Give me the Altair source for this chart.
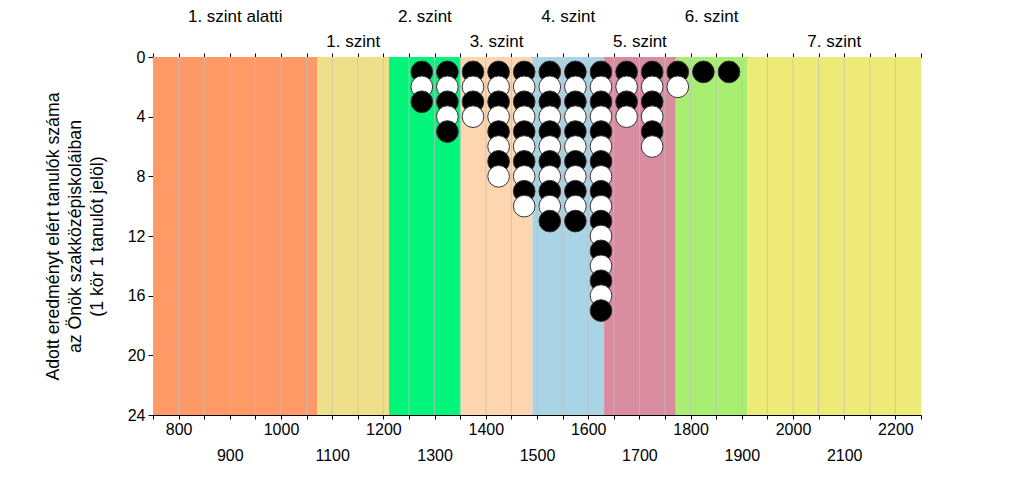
import altair as alt
import pandas as pd

# ---- data ----
band_names = ["1. szint alatti", "1. szint", "2. szint", "3. szint",
              "4. szint", "5. szint", "6. szint", "7. szint"]
band_starts = [750, 1071, 1211, 1351, 1491, 1631, 1771, 1911]
band_ends = [1071, 1211, 1351, 1491, 1631, 1771, 1911, 2250]
band_colors = ["#FF9966", "#EEE08A", "#00F57A", "#FDD5AE",
               "#A8D4E6", "#D98BA0", "#A8EE70", "#EEEA78"]

bin_centers = [1275, 1325, 1375, 1425, 1475, 1525, 1575, 1625, 1675, 1725, 1775, 1825, 1875]
counts = [3, 5, 4, 8, 10, 11, 11, 17, 4, 6, 2, 1, 1]

x_ticks = list(range(750, 2251, 50))
grid_lines = list(range(800, 2201, 50))
y_ticks = [0, 4, 8, 12, 16, 20, 24]

y_title = ["Adott eredményt elért tanulók száma",
           "az Önök szakközépiskoláiban",
           "(1 kör 1 tanulót jelöl)"]

# ---- tables ----
bands = pd.DataFrame({
    "name": band_names,
    "start": band_starts,
    "end": band_ends,
    "color": band_colors,
    "row": [i % 2 for i in range(len(band_names))],
})
bands["y0"] = 0
bands["y1"] = 24

rows = []
for c, n in zip(bin_centers, counts):
    for k in range(1, n + 1):
        rows.append({"x": c, "y": k, "fill": "black" if k % 2 == 1 else "white"})
dots = pd.DataFrame(rows)
grid = pd.DataFrame({"g": grid_lines})

W, H = 768, 358
FONT = "Liberation Sans"

xscale = alt.Scale(domain=[750, 2250], nice=False, zero=False)
yscale = alt.Scale(domain=[0, 24], reverse=True, nice=False, zero=False)

y_axis = alt.Axis(values=y_ticks, title=y_title, grid=False, tickSize=5, format="d",
                  labelPadding=3, labelFontSize=16, labelFont=FONT,
                  labelColor="black", domainColor="black", tickColor="black",
                  titleFont=FONT, titleFontSize=17.7, titleFontWeight="normal",
                  titleColor="black", titleAngle=-90, titleAlign="center",
                  titleBaseline="middle", titleLineHeight=22,
                  titleX=-100, titleY=H / 2)

bottom_axis = alt.Axis(
    orient="bottom", values=x_ticks, title=None, grid=False, tickSize=4, format="d",
    labelExpr="datum.value % 100 == 0 ? datum.label : ''",
    labelPadding={"condition": {"test": "datum.value % 200 == 0", "value": 2}, "value": 28},
    labelFontSize=16, labelFont=FONT, labelColor="black", labelFlush=False,
    labelOverlap=False, domainColor="black", tickColor="black")

top_axis = alt.Axis(orient="top", values=x_ticks, title=None, grid=False,
                    labels=False, tickSize=4, domainColor="black", tickColor="black")

band_layer = alt.Chart(bands).mark_rect().encode(
    x=alt.X("start:Q", scale=xscale, axis=bottom_axis),
    x2="end:Q",
    y=alt.Y("y0:Q", scale=yscale, axis=y_axis),
    y2="y1:Q",
    color=alt.Color("color:N", scale=None),
)

grid_layer = alt.Chart(grid).mark_rule(color="#C0C0C0", strokeWidth=1, opacity=0.75).encode(
    x=alt.X("g:Q", scale=xscale, axis=None),
)

dot_layer = alt.Chart(dots).mark_circle(size=470, opacity=1, stroke="#333333",
                                        strokeWidth=1).encode(
    x=alt.X("x:Q", scale=xscale, axis=None),
    y=alt.Y("y:Q", scale=yscale, axis=y_axis),
    color=alt.Color("fill:N", scale=None),
)

label_base = alt.Chart(bands).transform_calculate(mid="(datum.start + datum.end) / 2")

top_row = label_base.transform_filter("datum.row == 0").mark_text(
    font=FONT, fontSize=17, color="black", baseline="alphabetic", align="center"
).encode(
    x=alt.X("mid:Q", scale=xscale, axis=top_axis),
    y=alt.value(-35),
    text="name:N",
)

second_row = label_base.transform_filter("datum.row == 1").mark_text(
    font=FONT, fontSize=17, color="black", baseline="alphabetic", align="center"
).encode(
    x=alt.X("mid:Q", scale=xscale, axis=None),
    y=alt.value(-10),
    text="name:N",
)

chart = alt.layer(band_layer, grid_layer, dot_layer, top_row, second_row).resolve_axis(
    x="independent"
).properties(
    width=W, height=H,
    autosize=alt.AutoSizeParams(type="none"),
    padding={"left": 145, "top": 49, "right": 95, "bottom": 55},
    background="white",
).configure_view(stroke=None)

chart.save("out.html", embed_options={"renderer": "svg", "actions": False})
